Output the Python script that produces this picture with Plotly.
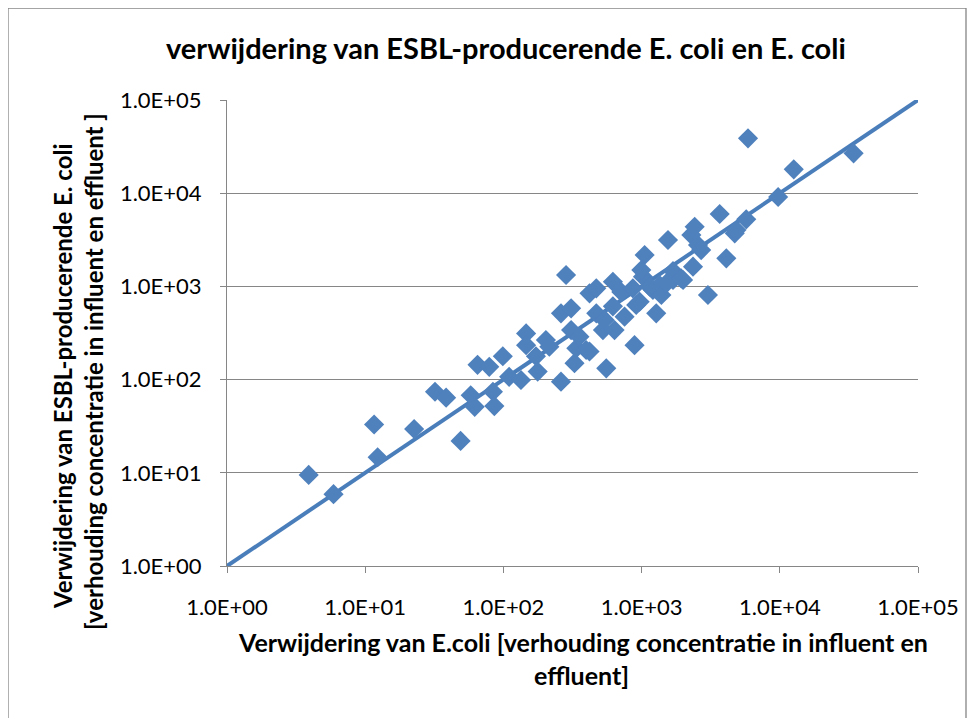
import plotly.graph_objects as go

# E. coli removal (x) vs ESBL-producing E. coli removal (y), ratio influent/effluent
ecoli_removal = [3.9, 5.9, 11.6, 12.3, 22.6, 32, 38.5, 49, 58, 62, 65, 79, 84, 86, 99, 110, 134,
                 146, 146, 172, 177, 203, 215, 261, 261, 284, 309, 309, 327, 337, 355, 397, 420,
                 470, 420, 470, 525, 540, 555, 620, 637, 620, 713, 753, 865, 889, 914, 968, 1023,
                 1052, 1208, 1276, 1349, 1390, 1552, 1687, 1687, 1995, 2355, 2291, 2559, 3020,
                 4102, 4721, 2421, 3673, 4853, 5715, 9727, 12618, 5888, 34200, 2698, 1932, 1510,
                 1143, 995]
esbl_removal = [9.5, 5.9, 33, 14.7, 29.5, 74, 64, 22, 68, 51, 144, 137, 74, 52, 178, 107, 99,
                313, 234, 178, 122, 266, 225, 95, 514, 1324, 582, 340, 150, 217, 289, 208, 843,
                953, 200, 514, 340, 437, 132, 611, 340, 1122, 871, 473, 953, 234, 631, 685, 1271,
                2173, 914, 514, 1035, 809, 3148, 1459, 1172, 1172, 1629, 3565, 2780, 809,
                2000, 3707, 4365, 5984, 4027, 5248, 9099, 18030, 38815, 26800, 2455, 1222, 1079,
                993, 1500]

# reference line y = x
ref_line_x = [1, 100000]
ref_line_y = [1, 100000]

tick_vals = [1, 10, 100, 1000, 10000, 100000]
tick_text = ["1.0E+00", "1.0E+01", "1.0E+02", "1.0E+03", "1.0E+04", "1.0E+05"]

OFF = 8  # page body margin
W, H = 979, 718
L, R, T, B = 227 - OFF, 918 - OFF, 100 - OFF, 566 - OFF


def px(x):
    return (x - OFF - L) / (R - L)


def py(y):
    return (B - (y - OFF)) / (B - T)


FONT = "Lato, Liberation Sans, Arial, sans-serif"
GREY = "#868686"
BLUE = "#4F81BD"

fig = go.Figure()
fig.add_trace(go.Scatter(
    x=ref_line_x, y=ref_line_y, mode="lines",
    line=dict(color="#4A7EBB", width=4), hoverinfo="skip", showlegend=False))
fig.add_trace(go.Scatter(
    x=ecoli_removal, y=esbl_removal, mode="markers",
    marker=dict(symbol="diamond", size=15.5, color=BLUE, line=dict(width=0)),
    showlegend=False))

fig.update_layout(
    width=W, height=H,
    margin=dict(l=L, r=W - R, t=T, b=H - B, pad=0),
    paper_bgcolor="white", plot_bgcolor="white",
    font=dict(family=FONT, color="black"),
    showlegend=False,
    xaxis=dict(type="log", range=[0, 5], tickvals=tick_vals, ticktext=tick_text,
               showgrid=False, zeroline=False, showline=True, linecolor=GREY, linewidth=1,
               ticks="outside", ticklen=6, tickcolor=GREY, tickfont=dict(size=22, family=FONT),
               ticklabelstandoff=16, fixedrange=True),
    yaxis=dict(type="log", range=[0, 5], tickvals=tick_vals, ticktext=tick_text,
               showgrid=True, gridcolor=GREY, gridwidth=1, zeroline=False,
               showline=True, linecolor=GREY, linewidth=1,
               ticks="outside", ticklen=6, tickcolor=GREY, tickfont=dict(size=22, family=FONT),
               ticklabelstandoff=14, fixedrange=True),
    shapes=[dict(type="rect", xref="paper", yref="paper",
                 x0=px(8), x1=px(966), y0=py(740), y1=py(8),
                 line=dict(color=GREY, width=1.3), fillcolor="rgba(0,0,0,0)", layer="below")],
    annotations=[
        dict(text="<b>verwijdering van ESBL-producerende E. coli en E. coli</b>",
             x=px(506), y=py(47), xref="paper", yref="paper", showarrow=False,
             xanchor="center", yanchor="middle", font=dict(size=29, family=FONT)),
        dict(text="<b>Verwijdering van E.coli [verhouding concentratie in influent en</b>",
             x=px(583), y=py(642), xref="paper", yref="paper", showarrow=False,
             xanchor="center", yanchor="middle", font=dict(size=25, family=FONT)),
        dict(text="<b>effluent]</b>",
             x=px(581), y=py(675), xref="paper", yref="paper", showarrow=False,
             xanchor="center", yanchor="middle", font=dict(size=25, family=FONT)),
        dict(text="<b>Verwijdering van ESBL-producerende E. coli</b>",
             x=px(62), y=py(376), xref="paper", yref="paper", showarrow=False, textangle=-90,
             xanchor="center", yanchor="middle", font=dict(size=24, family=FONT)),
        dict(text="<b>[verhouding concentratie in influent en effluent ]</b>",
             x=px(93), y=py(372), xref="paper", yref="paper", showarrow=False, textangle=-90,
             xanchor="center", yanchor="middle", font=dict(size=24, family=FONT)),
    ],
)

fig.write_html("out.html")
